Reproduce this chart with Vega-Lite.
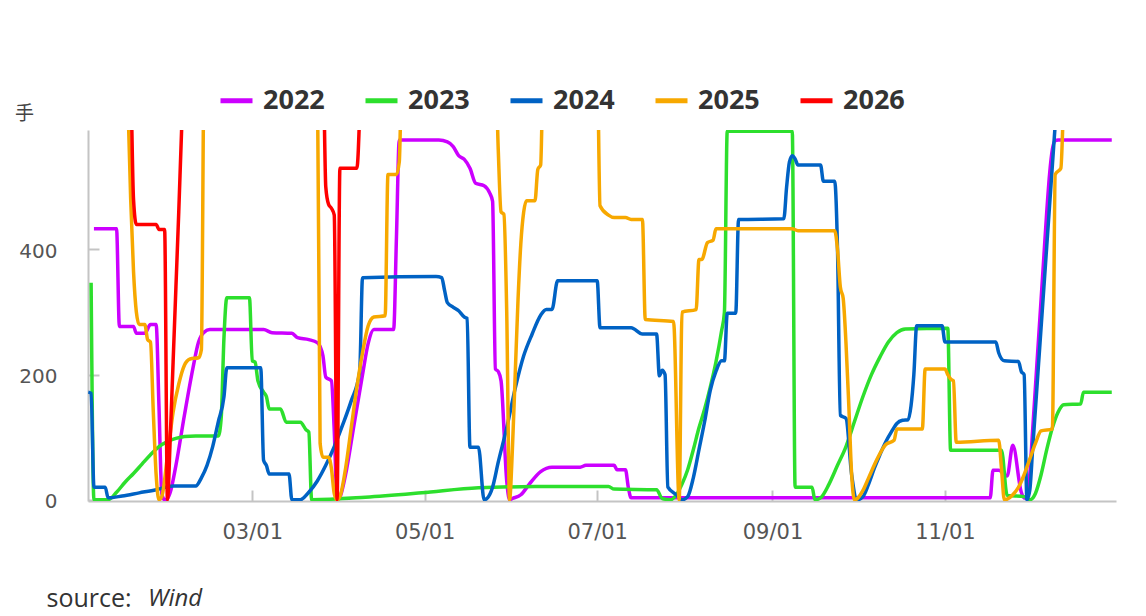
{
"$schema":"https://vega.github.io/schema/vega-lite/v6.json",
"width":1028,"height":371,
"autosize":{"type":"none"},
"padding":{"left":88,"top":130,"right":30,"bottom":115},
"background":"#ffffff",
"config":{"view":{"stroke":null}},
"title":{"text":"Wind","orient":"bottom","anchor":"start","frame":"group","offset":0,"dx":60,"dy":-24,"font":"Open Sans","fontSize":24,"fontStyle":"italic","fontWeight":"normal","color":"#333333","baseline":"top"},
"data":{"values":[
{"year":"2022","day":4,"value":433},{"year":"2022","day":12,"value":433},{"year":"2022","day":13,"value":277},{"year":"2022","day":18,"value":277},{"year":"2022","day":19,"value":266},{"year":"2022","day":22,"value":266},{"year":"2022","day":24,"value":280},{"year":"2022","day":26,"value":280},{"year":"2022","day":27,"value":150},{"year":"2022","day":28,"value":10},{"year":"2022","day":29,"value":0},{"year":"2022","day":30,"value":2},{"year":"2022","day":31,"value":12},{"year":"2022","day":33,"value":55},{"year":"2022","day":36,"value":135},{"year":"2022","day":39,"value":210},{"year":"2022","day":41,"value":252},{"year":"2022","day":43,"value":268},{"year":"2022","day":45,"value":272},{"year":"2022","day":64,"value":272},{"year":"2022","day":67,"value":267},{"year":"2022","day":74,"value":266},{"year":"2022","day":76,"value":259},{"year":"2022","day":80,"value":256},{"year":"2022","day":83,"value":251},{"year":"2022","day":84,"value":245},{"year":"2022","day":85,"value":230},{"year":"2022","day":86,"value":196},{"year":"2022","day":88,"value":190},{"year":"2022","day":89,"value":110},{"year":"2022","day":90,"value":0},{"year":"2022","day":91,"value":4},{"year":"2022","day":93,"value":40},{"year":"2022","day":96,"value":120},{"year":"2022","day":99,"value":200},{"year":"2022","day":101,"value":250},{"year":"2022","day":103,"value":272},{"year":"2022","day":110,"value":272},{"year":"2022","day":111,"value":420},{"year":"2022","day":112,"value":575},{"year":"2022","day":126,"value":575},{"year":"2022","day":129,"value":572},{"year":"2022","day":131,"value":565},{"year":"2022","day":133,"value":550},{"year":"2022","day":135,"value":544},{"year":"2022","day":137,"value":530},{"year":"2022","day":139,"value":506},{"year":"2022","day":142,"value":502},{"year":"2022","day":144,"value":490},{"year":"2022","day":145,"value":477},{"year":"2022","day":146,"value":209},{"year":"2022","day":147,"value":205},{"year":"2022","day":148,"value":190},{"year":"2022","day":150,"value":30},{"year":"2022","day":151,"value":0},{"year":"2022","day":152,"value":2},{"year":"2022","day":155,"value":8},{"year":"2022","day":158,"value":25},{"year":"2022","day":162,"value":45},{"year":"2022","day":166,"value":52},{"year":"2022","day":176,"value":52},{"year":"2022","day":178,"value":55},{"year":"2022","day":188,"value":55},{"year":"2022","day":189,"value":48},{"year":"2022","day":192,"value":48},{"year":"2022","day":193,"value":20},{"year":"2022","day":194,"value":3},{"year":"2022","day":321,"value":3},{"year":"2022","day":322,"value":47},{"year":"2022","day":324,"value":47},{"year":"2022","day":327,"value":38},{"year":"2022","day":329,"value":87},{"year":"2022","day":332,"value":12},{"year":"2022","day":333,"value":3},{"year":"2022","day":334,"value":2},{"year":"2022","day":335,"value":40},{"year":"2022","day":336,"value":110},{"year":"2022","day":337,"value":180},{"year":"2022","day":338,"value":250},{"year":"2022","day":339,"value":320},{"year":"2022","day":340,"value":390},{"year":"2022","day":341,"value":460},{"year":"2022","day":342,"value":520},{"year":"2022","day":343,"value":560},{"year":"2022","day":344,"value":574},{"year":"2022","day":345,"value":575},{"year":"2022","day":364,"value":575},
{"year":"2023","day":3,"value":347},{"year":"2023","day":4,"value":0},{"year":"2023","day":9,"value":0},{"year":"2023","day":12,"value":12},{"year":"2023","day":15,"value":28},{"year":"2023","day":18,"value":42},{"year":"2023","day":21,"value":57},{"year":"2023","day":24,"value":72},{"year":"2023","day":27,"value":85},{"year":"2023","day":30,"value":93},{"year":"2023","day":33,"value":98},{"year":"2023","day":36,"value":101},{"year":"2023","day":40,"value":102},{"year":"2023","day":48,"value":102},{"year":"2023","day":49,"value":130},{"year":"2023","day":50,"value":260},{"year":"2023","day":51,"value":323},{"year":"2023","day":59,"value":323},{"year":"2023","day":60,"value":222},{"year":"2023","day":61,"value":220},{"year":"2023","day":62,"value":190},{"year":"2023","day":64,"value":172},{"year":"2023","day":65,"value":165},{"year":"2023","day":66,"value":145},{"year":"2023","day":70,"value":145},{"year":"2023","day":72,"value":124},{"year":"2023","day":77,"value":124},{"year":"2023","day":79,"value":112},{"year":"2023","day":80,"value":108},{"year":"2023","day":81,"value":0},{"year":"2023","day":100,"value":4},{"year":"2023","day":120,"value":11},{"year":"2023","day":140,"value":19},{"year":"2023","day":160,"value":21},{"year":"2023","day":186,"value":21},{"year":"2023","day":188,"value":17},{"year":"2023","day":203,"value":16},{"year":"2023","day":205,"value":2},{"year":"2023","day":208,"value":0},{"year":"2023","day":210,"value":8},{"year":"2023","day":212,"value":25},{"year":"2023","day":214,"value":48},{"year":"2023","day":216,"value":80},{"year":"2023","day":218,"value":115},{"year":"2023","day":220,"value":145},{"year":"2023","day":222,"value":180},{"year":"2023","day":224,"value":220},{"year":"2023","day":226,"value":270},{"year":"2023","day":227,"value":300},{"year":"2023","day":228,"value":589},{"year":"2023","day":251,"value":589},{"year":"2023","day":252,"value":20},{"year":"2023","day":258,"value":20},{"year":"2023","day":259,"value":0},{"year":"2023","day":261,"value":3},{"year":"2023","day":264,"value":25},{"year":"2023","day":267,"value":55},{"year":"2023","day":270,"value":85},{"year":"2023","day":273,"value":125},{"year":"2023","day":276,"value":165},{"year":"2023","day":279,"value":200},{"year":"2023","day":282,"value":228},{"year":"2023","day":285,"value":252},{"year":"2023","day":288,"value":267},{"year":"2023","day":291,"value":273},{"year":"2023","day":306,"value":274},{"year":"2023","day":307,"value":79},{"year":"2023","day":325,"value":79},{"year":"2023","day":327,"value":7},{"year":"2023","day":333,"value":5},{"year":"2023","day":335,"value":0},{"year":"2023","day":337,"value":10},{"year":"2023","day":339,"value":40},{"year":"2023","day":341,"value":80},{"year":"2023","day":343,"value":115},{"year":"2023","day":345,"value":140},{"year":"2023","day":347,"value":152},{"year":"2023","day":353,"value":153},{"year":"2023","day":354,"value":172},{"year":"2023","day":364,"value":172},
{"year":"2024","day":2,"value":172},{"year":"2024","day":3,"value":170},{"year":"2024","day":4,"value":20},{"year":"2024","day":8,"value":20},{"year":"2024","day":9,"value":3},{"year":"2024","day":14,"value":6},{"year":"2024","day":20,"value":11},{"year":"2024","day":26,"value":16},{"year":"2024","day":32,"value":22},{"year":"2024","day":40,"value":22},{"year":"2024","day":42,"value":35},{"year":"2024","day":44,"value":55},{"year":"2024","day":46,"value":85},{"year":"2024","day":48,"value":125},{"year":"2024","day":50,"value":165},{"year":"2024","day":51,"value":211},{"year":"2024","day":63,"value":211},{"year":"2024","day":64,"value":63},{"year":"2024","day":65,"value":55},{"year":"2024","day":66,"value":41},{"year":"2024","day":73,"value":41},{"year":"2024","day":74,"value":0},{"year":"2024","day":77,"value":0},{"year":"2024","day":80,"value":12},{"year":"2024","day":83,"value":30},{"year":"2024","day":86,"value":55},{"year":"2024","day":89,"value":85},{"year":"2024","day":92,"value":120},{"year":"2024","day":95,"value":158},{"year":"2024","day":98,"value":205},{"year":"2024","day":99,"value":355},{"year":"2024","day":125,"value":357},{"year":"2024","day":127,"value":355},{"year":"2024","day":128,"value":335},{"year":"2024","day":129,"value":315},{"year":"2024","day":131,"value":308},{"year":"2024","day":133,"value":302},{"year":"2024","day":135,"value":292},{"year":"2024","day":136,"value":290},{"year":"2024","day":137,"value":84},{"year":"2024","day":140,"value":84},{"year":"2024","day":142,"value":0},{"year":"2024","day":143,"value":2},{"year":"2024","day":145,"value":20},{"year":"2024","day":147,"value":60},{"year":"2024","day":150,"value":115},{"year":"2024","day":153,"value":178},{"year":"2024","day":156,"value":230},{"year":"2024","day":159,"value":265},{"year":"2024","day":162,"value":295},{"year":"2024","day":164,"value":304},{"year":"2024","day":166,"value":304},{"year":"2024","day":168,"value":350},{"year":"2024","day":182,"value":350},{"year":"2024","day":183,"value":275},{"year":"2024","day":194,"value":275},{"year":"2024","day":198,"value":265},{"year":"2024","day":203,"value":265},{"year":"2024","day":204,"value":198},{"year":"2024","day":205,"value":207},{"year":"2024","day":206,"value":200},{"year":"2024","day":207,"value":20},{"year":"2024","day":210,"value":8},{"year":"2024","day":212,"value":0},{"year":"2024","day":214,"value":5},{"year":"2024","day":216,"value":35},{"year":"2024","day":218,"value":80},{"year":"2024","day":220,"value":125},{"year":"2024","day":222,"value":175},{"year":"2024","day":224,"value":205},{"year":"2024","day":226,"value":222},{"year":"2024","day":227,"value":222},{"year":"2024","day":228,"value":298},{"year":"2024","day":231,"value":298},{"year":"2024","day":232,"value":448},{"year":"2024","day":248,"value":449},{"year":"2024","day":249,"value":500},{"year":"2024","day":250,"value":540},{"year":"2024","day":251,"value":550},{"year":"2024","day":252,"value":545},{"year":"2024","day":253,"value":535},{"year":"2024","day":261,"value":535},{"year":"2024","day":262,"value":509},{"year":"2024","day":266,"value":509},{"year":"2024","day":267,"value":400},{"year":"2024","day":268,"value":135},{"year":"2024","day":270,"value":130},{"year":"2024","day":272,"value":40},{"year":"2024","day":274,"value":0},{"year":"2024","day":276,"value":5},{"year":"2024","day":278,"value":25},{"year":"2024","day":280,"value":50},{"year":"2024","day":282,"value":72},{"year":"2024","day":284,"value":92},{"year":"2024","day":286,"value":108},{"year":"2024","day":288,"value":122},{"year":"2024","day":290,"value":127},{"year":"2024","day":292,"value":128},{"year":"2024","day":293,"value":150},{"year":"2024","day":294,"value":200},{"year":"2024","day":295,"value":278},{"year":"2024","day":304,"value":278},{"year":"2024","day":305,"value":252},{"year":"2024","day":323,"value":252},{"year":"2024","day":324,"value":235},{"year":"2024","day":326,"value":222},{"year":"2024","day":331,"value":221},{"year":"2024","day":332,"value":205},{"year":"2024","day":333,"value":200},{"year":"2024","day":334,"value":0},{"year":"2024","day":335,"value":15},{"year":"2024","day":336,"value":80},{"year":"2024","day":337,"value":145},{"year":"2024","day":338,"value":210},{"year":"2024","day":339,"value":275},{"year":"2024","day":340,"value":340},{"year":"2024","day":341,"value":405},{"year":"2024","day":342,"value":470},{"year":"2024","day":343,"value":535},{"year":"2024","day":344,"value":600},{"year":"2024","day":345,"value":665},{"year":"2024","day":346,"value":730},
{"year":"2025","day":15,"value":800},{"year":"2025","day":16,"value":640},{"year":"2025","day":17,"value":480},{"year":"2025","day":18,"value":365},{"year":"2025","day":19,"value":300},{"year":"2025","day":20,"value":280},{"year":"2025","day":22,"value":280},{"year":"2025","day":23,"value":256},{"year":"2025","day":24,"value":252},{"year":"2025","day":25,"value":140},{"year":"2025","day":26,"value":40},{"year":"2025","day":27,"value":0},{"year":"2025","day":28,"value":5},{"year":"2025","day":30,"value":70},{"year":"2025","day":32,"value":140},{"year":"2025","day":34,"value":185},{"year":"2025","day":36,"value":215},{"year":"2025","day":38,"value":225},{"year":"2025","day":41,"value":227},{"year":"2025","day":42,"value":240},{"year":"2025","day":43,"value":700},{"year":"2025","day":83,"value":700},{"year":"2025","day":84,"value":90},{"year":"2025","day":85,"value":68},{"year":"2025","day":87,"value":68},{"year":"2025","day":88,"value":50},{"year":"2025","day":89,"value":10},{"year":"2025","day":90,"value":0},{"year":"2025","day":91,"value":5},{"year":"2025","day":93,"value":50},{"year":"2025","day":95,"value":115},{"year":"2025","day":97,"value":180},{"year":"2025","day":99,"value":235},{"year":"2025","day":101,"value":278},{"year":"2025","day":103,"value":292},{"year":"2025","day":107,"value":294},{"year":"2025","day":108,"value":520},{"year":"2025","day":111,"value":520},{"year":"2025","day":112,"value":540},{"year":"2025","day":113,"value":700},{"year":"2025","day":146,"value":700},{"year":"2025","day":147,"value":560},{"year":"2025","day":148,"value":460},{"year":"2025","day":149,"value":456},{"year":"2025","day":150,"value":300},{"year":"2025","day":151,"value":0},{"year":"2025","day":152,"value":80},{"year":"2025","day":153,"value":200},{"year":"2025","day":154,"value":320},{"year":"2025","day":155,"value":410},{"year":"2025","day":156,"value":460},{"year":"2025","day":157,"value":478},{"year":"2025","day":160,"value":478},{"year":"2025","day":161,"value":528},{"year":"2025","day":162,"value":535},{"year":"2025","day":163,"value":700},{"year":"2025","day":182,"value":700},{"year":"2025","day":183,"value":470},{"year":"2025","day":186,"value":455},{"year":"2025","day":188,"value":451},{"year":"2025","day":192,"value":451},{"year":"2025","day":194,"value":448},{"year":"2025","day":198,"value":448},{"year":"2025","day":199,"value":288},{"year":"2025","day":209,"value":285},{"year":"2025","day":211,"value":0},{"year":"2025","day":212,"value":300},{"year":"2025","day":217,"value":304},{"year":"2025","day":218,"value":384},{"year":"2025","day":219,"value":384},{"year":"2025","day":221,"value":411},{"year":"2025","day":223,"value":415},{"year":"2025","day":224,"value":433},{"year":"2025","day":251,"value":433},{"year":"2025","day":253,"value":430},{"year":"2025","day":266,"value":430},{"year":"2025","day":267,"value":400},{"year":"2025","day":268,"value":340},{"year":"2025","day":269,"value":322},{"year":"2025","day":270,"value":250},{"year":"2025","day":271,"value":150},{"year":"2025","day":272,"value":40},{"year":"2025","day":273,"value":0},{"year":"2025","day":274,"value":2},{"year":"2025","day":276,"value":15},{"year":"2025","day":278,"value":35},{"year":"2025","day":281,"value":65},{"year":"2025","day":284,"value":88},{"year":"2025","day":287,"value":95},{"year":"2025","day":288,"value":113},{"year":"2025","day":297,"value":113},{"year":"2025","day":298,"value":209},{"year":"2025","day":305,"value":209},{"year":"2025","day":306,"value":200},{"year":"2025","day":307,"value":193},{"year":"2025","day":308,"value":190},{"year":"2025","day":309,"value":92},{"year":"2025","day":324,"value":95},{"year":"2025","day":325,"value":50},{"year":"2025","day":326,"value":0},{"year":"2025","day":327,"value":1},{"year":"2025","day":329,"value":8},{"year":"2025","day":331,"value":20},{"year":"2025","day":333,"value":40},{"year":"2025","day":335,"value":65},{"year":"2025","day":337,"value":90},{"year":"2025","day":339,"value":110},{"year":"2025","day":343,"value":113},{"year":"2025","day":344,"value":520},{"year":"2025","day":346,"value":530},{"year":"2025","day":347,"value":640},{"year":"2025","day":350,"value":800},
{"year":"2026","day":16,"value":800},{"year":"2026","day":17,"value":680},{"year":"2026","day":18,"value":480},{"year":"2026","day":19,"value":440},{"year":"2026","day":26,"value":440},{"year":"2026","day":27,"value":432},{"year":"2026","day":29,"value":432},{"year":"2026","day":30,"value":0},{"year":"2026","day":31,"value":100},{"year":"2026","day":32,"value":220},{"year":"2026","day":33,"value":340},{"year":"2026","day":34,"value":460},{"year":"2026","day":35,"value":590},{"year":"2026","day":36,"value":700},{"year":"2026","day":85,"value":700},{"year":"2026","day":86,"value":500},{"year":"2026","day":87,"value":472},{"year":"2026","day":88,"value":466},{"year":"2026","day":89,"value":455},{"year":"2026","day":90,"value":0},{"year":"2026","day":91,"value":530},{"year":"2026","day":97,"value":530},{"year":"2026","day":98,"value":620},{"year":"2026","day":99,"value":800}
]},
"mark":{"type":"line","strokeWidth":3.5,"interpolate":"monotone","clip":true},
"encoding":{
"x":{"field":"day","type":"quantitative","scale":{"domain":[1.9,365.5],"nice":false,"zero":false},
"axis":{"title":"source:","titleX":-42,"titleY":97,"titleAlign":"left","titleBaseline":"middle","titleFont":"Open Sans","titleFontSize":25,"titleFontWeight":"normal","titleColor":"#333333","values":[60,121,182,244,305],"labelExpr":"timeFormat(datetime(2021, 0, datum.value), '%m/%d')","labelFont":"DejaVu Sans","labelFontSize":21,"labelColor":"#555555","labelFlush":false,"tickSize":-11,"labelPadding":31,"tickColor":"#c4c4c4","tickWidth":2,"domainColor":"#c4c4c4","domainWidth":2,"grid":false}},
"y":{"field":"value","type":"quantitative","scale":{"domain":[-2,591],"nice":false,"zero":false},
"axis":{"title":"手","titleAngle":0,"titleX":-64,"titleY":-17,"titleAlign":"center","titleBaseline":"middle","titleFont":"Noto Sans CJK SC","titleFontSize":19,"titleFontWeight":"normal","titleColor":"#444444","values":[0,200,400],"labelFont":"DejaVu Sans","labelFontSize":20,"labelColor":"#555555","labelFlush":false,"labelOffset":2,"tickSize":-11,"labelPadding":42,"tickColor":"#c4c4c4","tickWidth":2,"domainColor":"#c4c4c4","domainWidth":2,"grid":false}},
"color":{"field":"year","type":"nominal","scale":{"domain":["2022","2023","2024","2025","2026"],"range":["#cc00ff","#2ddf2d","#0062c4","#f7a800","#ff0000"]},
"legend":{"orient":"none","legendX":130,"legendY":-48,"direction":"horizontal","columns":5,"columnPadding":30,"title":null,"padding":0,"symbolType":"stroke","symbolSize":1024,"symbolStrokeWidth":5,"labelOffset":8,"labelFont":"Open Sans","labelFontSize":27,"labelFontWeight":"bold","labelColor":"#333333","labelLimit":0}}
}
}
